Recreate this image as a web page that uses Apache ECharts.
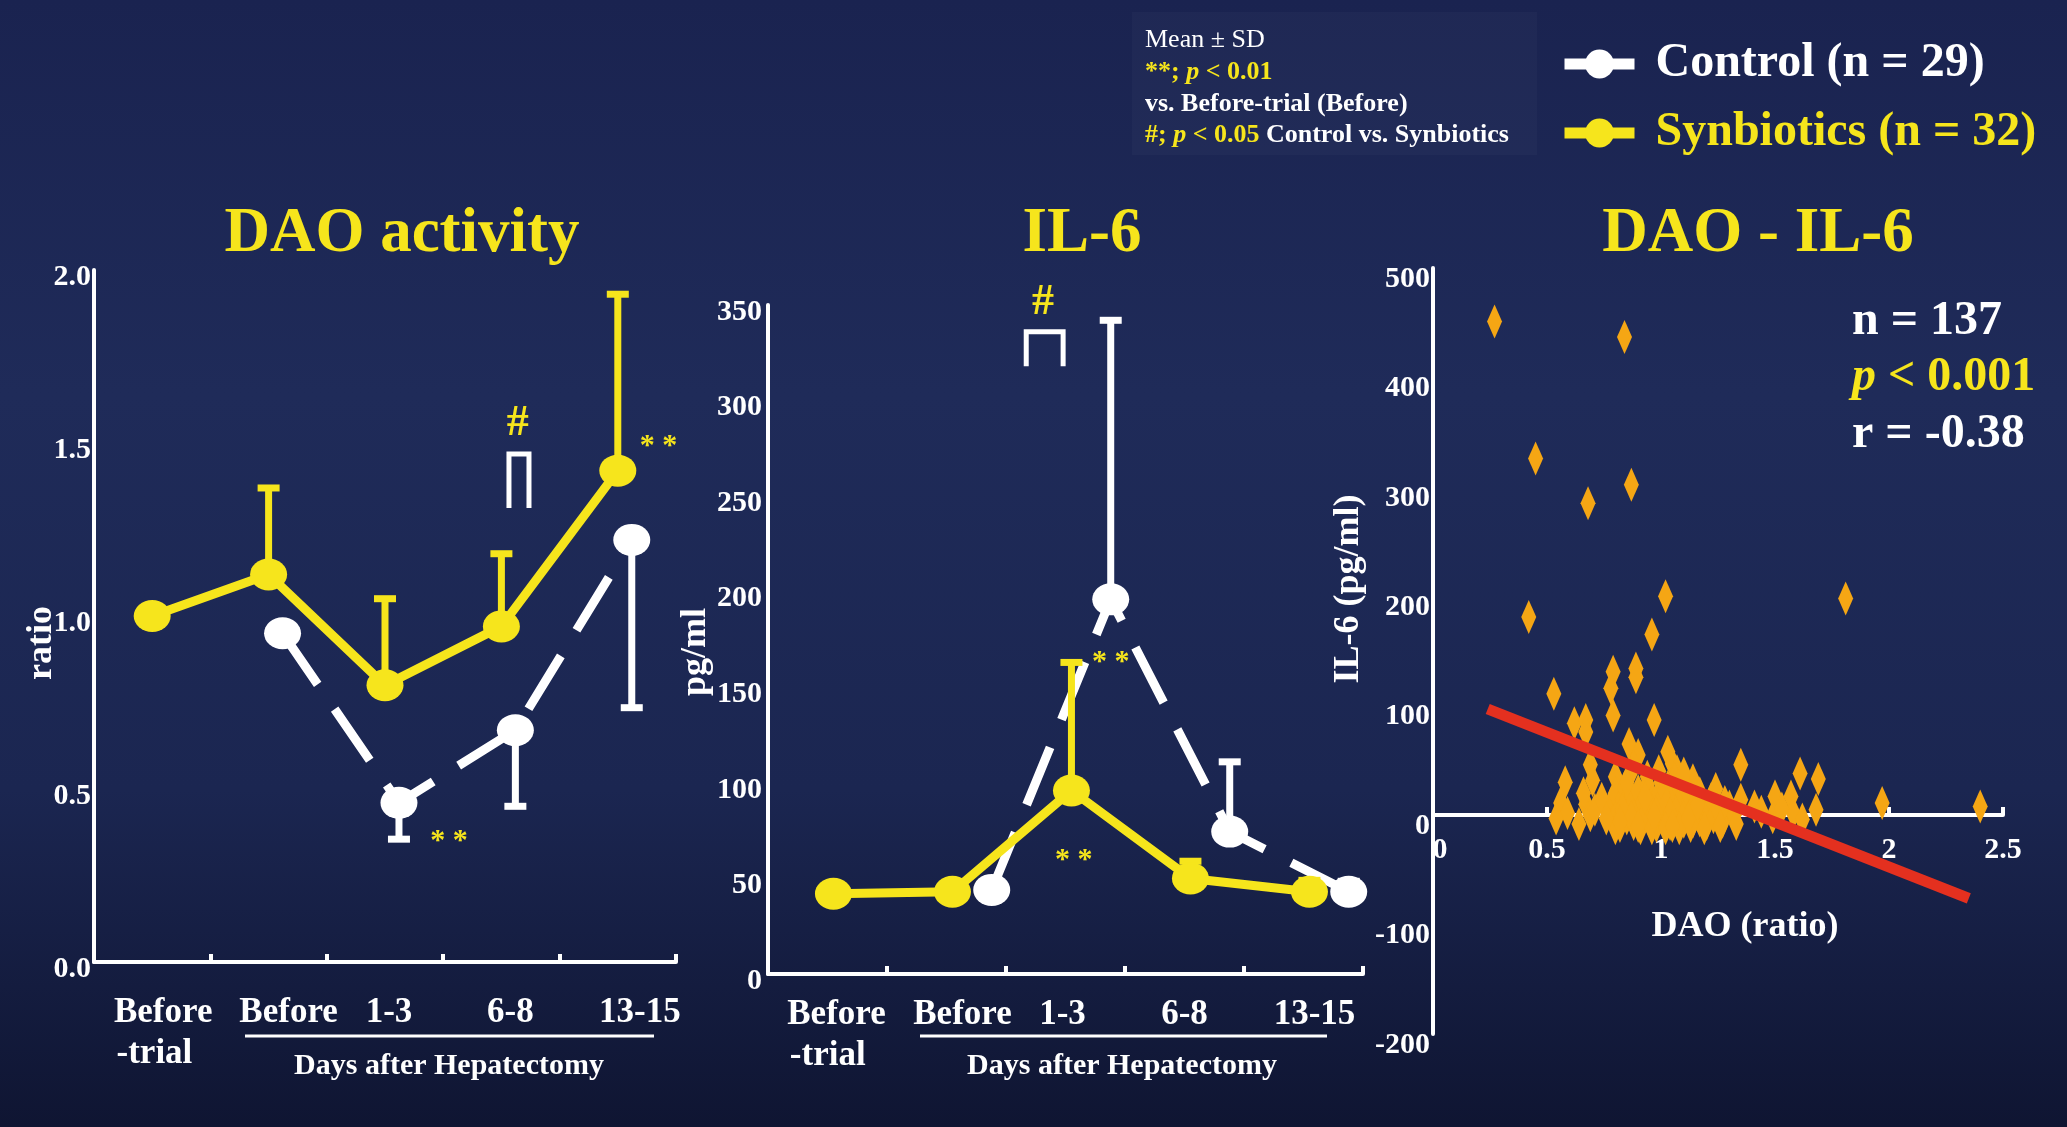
<!DOCTYPE html>
<html><head><meta charset="utf-8">
<script src="https://cdn.jsdelivr.net/npm/echarts@6/dist/echarts.min.js"></script>
<style>html,body{margin:0;padding:0;background:#1b2551;}#c{width:2067px;height:1127px;}</style>
</head><body><div id="c"></div>
<script>
// ---------------- DATA ----------------
const categories = ['Before\n-trial  ', 'Before', '1-3', '6-8', '13-15'];
// DAO activity (ratio)
const daoSynMean = [1.00, 1.12, 0.80, 0.97, 1.42];
const daoSynSD   = [null, 0.25, 0.25, 0.21, 0.51];
const daoCtlMean = [null, 0.95, 0.46, 0.67, 1.22];
const daoCtlSD   = [null, null, 0.105, 0.22, 0.485];
// IL-6 (pg/ml)
const il6SynMean = [42, 43, 96, 50, 43];
const il6SynSD   = [null, null, 67, 9, 6];
const il6CtlMean = [null, 44, 196, 74.5, 43];
const il6CtlSD   = [null, null, 146, 36.5, 5.5];
// DAO (ratio) vs IL-6 (pg/ml), n = 137
const scatterDAO = [0.27,0.84,0.45,0.68,0.87,1.02,1.81,0.42,0.96,0.89,0.89,0.79,0.78,0.79,0.53,0.62,0.67,0.67,0.97,0.86,0.90,1.03,1.05,0.69,0.70,0.58,1.35,1.61,1.69,0.80,1.14,1.07,
  0.56,0.59,0.54,0.67,0.69,0.66,1.35,1.41,1.50,1.57,1.68,1.97,2.40,1.49,1.58,
  0.78,0.79,0.80,0.81,0.82,0.83,0.84,0.85,0.86,0.87,0.88,0.89,0.90,0.91,0.92,0.93,0.94,0.95,0.96,0.97,0.98,0.99,1.00,1.01,1.02,1.03,1.04,1.05,1.06,1.07,1.08,1.09,1.10,1.11,1.12,1.13,1.14,1.15,1.16,1.17,1.18,1.19,1.20,1.21,1.22,1.23,1.25,1.27,1.30,1.32,1.33,
  0.80,0.83,0.87,0.92,0.95,0.98,1.01,1.04,1.08,1.11,1.14,1.17,0.85,0.94,1.00,1.06,0.90,0.96,1.12,
  0.64,0.71,0.74,0.76,1.28,1.24,1.26,1.44,1.53,1.62,0.99,1.02,0.88,1.10,0.82,0.93,1.05,1.16,1.19,0.97];
const scatterIL6 = [451,437,326,285,302,200,198,181,165,134,126,131,116,91,111,84,87,76,87,65,55,58,47,46,32,30,46,38,33,35,32,40,
  11,2,-3,10,0,20,14,8,17,17,5,11,8,-2,2,
  10,-5,20,2,-10,14,25,-3,8,18,-8,4,22,-12,12,0,28,-6,15,5,-10,20,2,-4,12,26,-8,6,16,-2,10,22,-6,4,14,-10,8,18,0,-5,12,3,-8,6,15,-2,5,-6,8,0,-8,
  -12,5,-2,-4,9,3,18,1,-12,24,-6,20,30,35,30,33,-10,-12,-3,
  -8,5,15,-3,12,24,-10,3,6,-4,40,-12,45,38,-6,16,-10,9,-12,-1];
// regression line end points
const regDAO = [0.24, 2.35];
const regIL6 = [97, -76];
// significance marks
const daoMarks = [{x:3.05, y:0.37, t:'* *'}, {x:4.85, y:1.51, t:'* *'}, {x:3.64, y:1.555, t:'#'}];
const il6Marks = [{x:2.88, y:167, t:'* *'}, {x:2.57, y:63, t:'* *'}, {x:2.31, y:351, t:'#'}];
const daoBracket = [[3.565, 3.737, 1.468, 1.312]];
const il6Bracket = [[2.17, 2.48, 336, 318]];

// ---------------- STYLE ----------------
const SERIF = "'Liberation Serif','Times New Roman',serif";
const YEL = '#f6e51c';
const WH = '#ffffff';
const ORANGE = '#f5a614';
const CTL = 'Control (n = 29)';
const SYN = 'Synbiotics (n = 32)';
const labelShift1 = [11, 20, 4, 9, 22];   // px nudges of category labels, panel 1
const labelShift2 = [9, 16, -3, 0, 11];   // panel 2

function pts(means, off){ const o=[]; means.forEach((v,i)=>{ if(v!=null) o.push([i+0.5+off, v]); }); return o; }
function errs(means, sds, off, dir){ const o=[]; means.forEach((m,i)=>{ if(m!=null && sds[i]!=null) o.push([i+0.5+off, m, m+dir*sds[i]]); }); return o; }
function errRender(color){
  return function(params, api){
    const x=api.value(0), m=api.value(1), e=api.value(2);
    const p0=api.coord([x,m]), p1=api.coord([x,e]);
    const hw=11;
    return {type:'group', children:[
      {type:'line', shape:{x1:p0[0],y1:p0[1],x2:p1[0],y2:p1[1]}, style:{stroke:color, lineWidth:7}},
      {type:'line', shape:{x1:p1[0]-hw,y1:p1[1],x2:p1[0]+hw,y2:p1[1]}, style:{stroke:color, lineWidth:7}}
    ]};
  };
}
function markRender(marks){
  return function(params, api){
    const mk = marks[params.dataIndex];
    const p = api.coord([mk.x, mk.y]);
    const isHash = mk.t === '#';
    return {type:'text', x:p[0], y:p[1] + (isHash?0:7), style:{text:mk.t, fill:YEL, fontFamily:SERIF, fontWeight:'bold',
      fontSize: isHash?44:30, align:'center', verticalAlign:'middle', textAlign:'center', textVerticalAlign:'middle'}};
  };
}
function bracketRender(params, api){
  const x1=api.value(0), x2=api.value(1), yt=api.value(2), yb=api.value(3);
  const a=api.coord([x1,yb]), b=api.coord([x1,yt]), c=api.coord([x2,yt]), d=api.coord([x2,yb]);
  return {type:'polyline', shape:{points:[a,b,c,d]}, style:{stroke:WH, lineWidth:5, fill:null}};
}

const axisLineW = {show:true, onZero:true, lineStyle:{color:WH, width:4}};
const tickLbl = {color:WH, fontFamily:SERIF, fontWeight:'bold', fontSize:30};

function catAxis(grid, margin, shifts){
  return {type:'category', gridIndex:grid, boundaryGap:true,
    data:categories.map((c,i)=>({value:c, textStyle:{padding: shifts[i]>=0 ? [0,0,0,2*shifts[i]] : [0,-2*shifts[i],0,0]}})),
    axisLine:axisLineW, axisTick:{show:true, inside:true, length:8, lineStyle:{color:WH, width:4}},
    axisLabel:{color:WH, fontFamily:SERIF, fontWeight:'bold', fontSize:35, lineHeight:41, margin:margin, interval:0},
    splitLine:{show:false}};
}
function hidX(grid){ return {type:'value', gridIndex:grid, min:0, max:5, show:false}; }

const option = {
  backgroundColor: 'transparent',
  animation:false,
  grid:[
    {left:94, top:270, width:582, height:692, outerBoundsMode:'none'},
    {left:768, top:305, width:595, height:669, outerBoundsMode:'none'},
    {left:1433, top:268, width:570, height:766, outerBoundsMode:'none'}
  ],
  title:[
    {text:'DAO activity', left:397, top:198, textAlign:'center', textStyle:{color:YEL, fontFamily:SERIF, fontWeight:'bold', fontSize:63}},
    {text:'IL-6', left:1077, top:198, textAlign:'center', textStyle:{color:YEL, fontFamily:SERIF, fontWeight:'bold', fontSize:63}},
    {text:'DAO - IL-6', left:1753, top:198, textAlign:'center', textStyle:{color:YEL, fontFamily:SERIF, fontWeight:'bold', fontSize:63}}
  ],
  legend:{orient:'vertical', left:1554, top:35, itemWidth:70, itemHeight:36, itemGap:21, selectedMode:false,
    data:[{name:CTL, textStyle:{color:WH}}, {name:SYN, textStyle:{color:YEL}}],
    textStyle:{fontFamily:SERIF, fontSize:48, fontWeight:'bold', padding:[0,0,0,16]},
    lineStyle:{type:'solid', width:11}},
  xAxis:[
    catAxis(0, 30, labelShift1), hidX(0),
    catAxis(1, 20, labelShift2), hidX(1),
    {type:'value', gridIndex:2, min:0, max:2.5, interval:0.5, offset:-219,
      axisLine:{show:true, onZero:false, lineStyle:{color:WH, width:4}},
      axisTick:{show:true, inside:true, length:8, lineStyle:{color:WH, width:4}},
      axisLabel:Object.assign({margin:20, formatter:v=> v===0 ? '{z|0}' : String(v), rich:{z:{padding:[0,0,0,14], color:WH, fontFamily:SERIF, fontWeight:'bold', fontSize:30}}}, tickLbl),
      splitLine:{show:false}}
  ],
  yAxis:[
    {type:'value', gridIndex:0, min:0, max:2, interval:0.5, axisLine:axisLineW, axisTick:{show:false}, splitLine:{show:false},
      axisLabel:Object.assign({margin:3, verticalAlign:'top', lineHeight:14, formatter:v=>v.toFixed(1)}, tickLbl)},
    {type:'value', gridIndex:1, min:0, max:350, interval:50, axisLine:axisLineW, axisTick:{show:false}, splitLine:{show:false},
      axisLabel:Object.assign({margin:6, verticalAlign:'top', lineHeight:14}, tickLbl)},
    {type:'value', gridIndex:2, min:-200, max:500, interval:100, axisLine:axisLineW, axisTick:{show:false}, splitLine:{show:false},
      axisLabel:Object.assign({margin:3, verticalAlign:'top', lineHeight:22}, tickLbl)}
  ],
  series:[
    // ---- DAO panel
    {type:'line', name:CTL, xAxisIndex:1, yAxisIndex:0, data:pts(daoCtlMean, 0.12), z:3,
      lineStyle:{color:WH, width:9, type:[62,30]}, itemStyle:{color:WH}, symbol:'circle', symbolSize:[37,32]},
    {type:'line', name:SYN, xAxisIndex:1, yAxisIndex:0, data:pts(daoSynMean, 0.0), z:5,
      lineStyle:{color:YEL, width:9}, itemStyle:{color:YEL}, symbol:'circle', symbolSize:[37,32]},
    {type:'custom', name:'ctlErrDAO', xAxisIndex:1, yAxisIndex:0, data:errs(daoCtlMean, daoCtlSD, 0.12, -1), renderItem:errRender(WH), z:2},
    {type:'custom', name:'synErrDAO', xAxisIndex:1, yAxisIndex:0, data:errs(daoSynMean, daoSynSD, 0.0, 1), renderItem:errRender(YEL), z:4},
    {type:'custom', name:'marksDAO', xAxisIndex:1, yAxisIndex:0, data:daoMarks.map(m=>[m.x,m.y]), renderItem:markRender(daoMarks), z:6},
    {type:'custom', name:'bracketDAO', xAxisIndex:1, yAxisIndex:0, data:daoBracket, renderItem:bracketRender, z:6},
    // ---- IL-6 panel
    {type:'line', name:CTL, xAxisIndex:3, yAxisIndex:1, data:pts(il6CtlMean, 0.38), z:3,
      lineStyle:{color:WH, width:9, type:[62,30]}, itemStyle:{color:WH}, symbol:'circle', symbolSize:[37,32]},
    {type:'line', name:SYN, xAxisIndex:3, yAxisIndex:1, data:pts(il6SynMean, 0.05), z:5,
      lineStyle:{color:YEL, width:9}, itemStyle:{color:YEL}, symbol:'circle', symbolSize:[37,32]},
    {type:'custom', name:'ctlErrIL6', xAxisIndex:3, yAxisIndex:1, data:errs(il6CtlMean, il6CtlSD, 0.38, 1), renderItem:errRender(WH), z:2},
    {type:'custom', name:'synErrIL6', xAxisIndex:3, yAxisIndex:1, data:errs(il6SynMean, il6SynSD, 0.05, 1), renderItem:errRender(YEL), z:4},
    {type:'custom', name:'marksIL6', xAxisIndex:3, yAxisIndex:1, data:il6Marks.map(m=>[m.x,m.y]), renderItem:markRender(il6Marks), z:6},
    {type:'custom', name:'bracketIL6', xAxisIndex:3, yAxisIndex:1, data:il6Bracket, renderItem:bracketRender, z:6},
    // ---- Scatter panel
    {type:'scatter', name:'DAO-IL6', xAxisIndex:4, yAxisIndex:2, data:scatterDAO.map((x,i)=>[x, scatterIL6[i]]),
      symbol:'diamond', symbolSize:[15,34], itemStyle:{color:ORANGE, opacity:1}, z:3},
    {type:'line', name:'regression', xAxisIndex:4, yAxisIndex:2, data:regDAO.map((x,i)=>[x, regIL6[i]]),
      symbol:'none', lineStyle:{color:'#e4301f', width:11}, z:4}
  ],
  graphic:[
    {type:'rect', z:-100, silent:true, shape:{x:0,y:0,width:2067,height:1127},
      style:{fill:{type:'linear', x:0,y:0,x2:0,y2:1, colorStops:[
        {offset:0,color:'#1a2350'},{offset:0.35,color:'#1f2b59'},{offset:0.7,color:'#1b2651'},{offset:1,color:'#0f1532'}]}}},
    {type:'rect', z:-90, silent:true, shape:{x:1132,y:12,width:405,height:143}, style:{fill:'rgba(255,255,255,0.025)'}},
    {type:'text', x:1145, y:40, style:{text:'Mean ± SD', fill:WH, fontFamily:SERIF, fontSize:26, verticalAlign:'middle', textVerticalAlign:'middle'}},
    {type:'text', x:1145, y:72, style:{text:'{y|**; }{yi|p}{y| < 0.01}', verticalAlign:'middle', textVerticalAlign:'middle',
      rich:{y:{fill:YEL, color:YEL, fontFamily:SERIF, fontSize:26, fontWeight:'bold'}, yi:{fill:YEL, color:YEL, fontFamily:SERIF, fontSize:26, fontWeight:'bold', fontStyle:'italic'}}}},
    {type:'text', x:1145, y:104, style:{text:'vs. Before-trial (Before)', fill:WH, fontFamily:SERIF, fontSize:26, fontWeight:'bold', verticalAlign:'middle', textVerticalAlign:'middle'}},
    {type:'text', x:1145, y:135, style:{text:'{y|#; }{yi|p}{y| < 0.05}{w| Control vs. Synbiotics}', verticalAlign:'middle', textVerticalAlign:'middle',
      rich:{y:{fill:YEL, color:YEL, fontFamily:SERIF, fontSize:26, fontWeight:'bold'}, yi:{fill:YEL, color:YEL, fontFamily:SERIF, fontSize:26, fontWeight:'bold', fontStyle:'italic'},
            w:{fill:WH, color:WH, fontFamily:SERIF, fontSize:26, fontWeight:'bold'}}}},
    // x-axis group underline + caption
    {type:'line', shape:{x1:245,y1:1036,x2:654,y2:1036}, style:{stroke:WH, lineWidth:3}},
    {type:'text', x:449, y:1066, style:{text:'Days after Hepatectomy', fill:WH, fontFamily:SERIF, fontSize:30, fontWeight:'bold', align:'center', verticalAlign:'middle', textAlign:'center', textVerticalAlign:'middle'}},
    {type:'line', shape:{x1:920,y1:1036,x2:1327,y2:1036}, style:{stroke:WH, lineWidth:3}},
    {type:'text', x:1122, y:1066, style:{text:'Days after Hepatectomy', fill:WH, fontFamily:SERIF, fontSize:30, fontWeight:'bold', align:'center', verticalAlign:'middle', textAlign:'center', textVerticalAlign:'middle'}},
    // axis names
    {type:'text', x:42, y:643, rotation:Math.PI/2, style:{text:'ratio', fill:WH, fontFamily:SERIF, fontSize:36, fontWeight:'bold', align:'center', verticalAlign:'middle', textAlign:'center', textVerticalAlign:'middle'}},
    {type:'text', x:696, y:652, rotation:Math.PI/2, style:{text:'pg/ml', fill:WH, fontFamily:SERIF, fontSize:36, fontWeight:'bold', align:'center', verticalAlign:'middle', textAlign:'center', textVerticalAlign:'middle'}},
    {type:'text', x:1349, y:589, rotation:Math.PI/2, style:{text:'IL-6 (pg/ml)', fill:WH, fontFamily:SERIF, fontSize:36, fontWeight:'bold', align:'center', verticalAlign:'middle', textAlign:'center', textVerticalAlign:'middle'}},
    {type:'text', x:1745, y:927, style:{text:'DAO (ratio)', fill:WH, fontFamily:SERIF, fontSize:36, fontWeight:'bold', align:'center', verticalAlign:'middle', textAlign:'center', textVerticalAlign:'middle'}},
    // stats
    {type:'text', x:1852, y:322, style:{text:'n = 137', fill:WH, fontFamily:SERIF, fontSize:48, fontWeight:'bold', verticalAlign:'middle', textVerticalAlign:'middle'}},
    {type:'text', x:1852, y:378, style:{text:'{i|p}{n| < 0.001}', verticalAlign:'middle', textVerticalAlign:'middle',
      rich:{i:{fill:YEL, color:YEL, fontFamily:SERIF, fontSize:48, fontWeight:'bold', fontStyle:'italic'}, n:{fill:YEL, color:YEL, fontFamily:SERIF, fontSize:48, fontWeight:'bold'}}}},
    {type:'text', x:1852, y:435, style:{text:'r = -0.38', fill:WH, fontFamily:SERIF, fontSize:48, fontWeight:'bold', verticalAlign:'middle', textVerticalAlign:'middle'}}
  ]
};
const chart = echarts.init(document.getElementById('c'), null, {renderer:'canvas'});
chart.setOption(option);
</script></body></html>
